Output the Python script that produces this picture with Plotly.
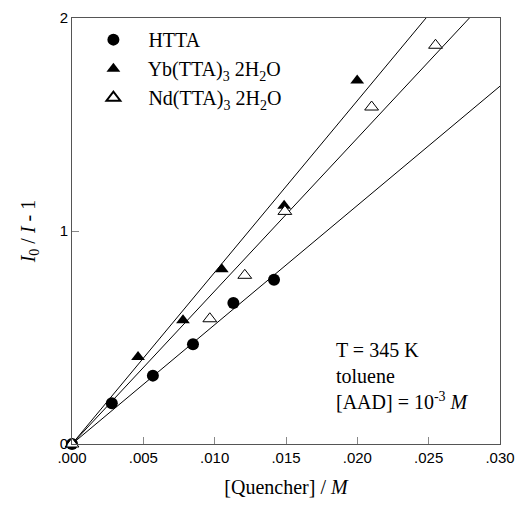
import plotly.graph_objects as go

# ---- data ----
htta_x = [0.0, 0.00279, 0.00567, 0.00848, 0.01131, 0.01416]
htta_y = [0.0, 0.191, 0.321, 0.468, 0.662, 0.771]

yb_x = [0.0, 0.00463, 0.00778, 0.0105, 0.01487, 0.01999]
yb_y = [0.0, 0.408, 0.581, 0.820, 1.119, 1.707]

nd_x = [0.0, 0.00966, 0.01211, 0.01492, 0.0210, 0.02548]
nd_y = [0.0, 0.588, 0.792, 1.092, 1.582, 1.872]

# fitted Stern-Volmer slopes (K_SV) for each series: Yb, Nd, HTTA
fit_slopes = [80.6, 71.8, 56.0]
fit_x_end = 0.030

x_tickvals = [0.0, 0.005, 0.010, 0.015, 0.020, 0.025, 0.030]
x_ticktext = [".000", ".005", ".010", ".015", ".020", ".025", ".030"]
y_tickvals = [0, 1, 2]
y_ticktext = ["0", "1", "2"]

serif = "Liberation Serif, Times New Roman, serif"
sans = "Liberation Sans, Arial, sans-serif"

fig = go.Figure()

# fit lines through the origin
for k in fit_slopes:
    fig.add_trace(go.Scatter(
        x=[0.0, fit_x_end], y=[0.0, k * fit_x_end], mode="lines",
        line=dict(color="black", width=1), showlegend=False, hoverinfo="skip"))

fig.add_trace(go.Scatter(
    x=htta_x, y=htta_y, mode="markers", name="   HTTA",
    marker=dict(symbol="circle", size=12, color="black"), cliponaxis=False))
fig.add_trace(go.Scatter(
    x=yb_x, y=yb_y, mode="markers", name="   Yb(TTA)<sub>3</sub> 2H<sub>2</sub>O",
    marker=dict(symbol="triangle-up", size=12, color="black"), cliponaxis=False))
fig.add_trace(go.Scatter(
    x=nd_x, y=nd_y, mode="markers", name="   Nd(TTA)<sub>3</sub> 2H<sub>2</sub>O",
    marker=dict(symbol="triangle-up", size=12, color="white",
                line=dict(width=1, color="black")), cliponaxis=False))

fig.add_annotation(
    x=0.612, y=0.068, xref="paper", yref="paper", showarrow=False,
    text="T = 345 K<br>toluene<br>[AAD] = 10<sup>-3</sup> <i>M</i>",
    align="left", xanchor="left", yanchor="bottom",
    font=dict(family=serif, size=20, color="black"))

fig.update_layout(
    width=516, height=506,
    margin=dict(l=72, r=16, t=18, b=62, autoexpand=False),
    paper_bgcolor="white", plot_bgcolor="white",
    showlegend=True,
    legend=dict(x=0.05, y=0.995, xanchor="left", yanchor="top",
                bgcolor="rgba(0,0,0,0)", font=dict(family=serif, size=20, color="black"),
                tracegroupgap=0, itemsizing="constant"),
    xaxis=dict(range=[0, 0.030], tickvals=x_tickvals, ticktext=x_ticktext,
               ticks="inside", ticklen=7, tickcolor="#888", showgrid=False, zeroline=False,
               showline=True, linecolor="#555", linewidth=1, mirror=True, automargin=False,
               tickfont=dict(family=sans, size=15, color="black"),
               title=dict(text="[Quencher] / <i>M</i>", font=dict(family=serif, size=20, color="black"),
                          standoff=14)),
    yaxis=dict(range=[0, 2], tickvals=y_tickvals, ticktext=y_ticktext,
               ticks="inside", ticklen=7, tickcolor="#888", showgrid=False, zeroline=False,
               showline=True, linecolor="#555", linewidth=1, mirror=True, automargin=False,
               tickfont=dict(family=sans, size=15, color="black"),
               title=dict(text="<i>I</i><sub>0</sub> / <i>I</i> - 1",
                          font=dict(family=serif, size=20, color="black"), standoff=18)),
)

fig.write_html("out.html")
